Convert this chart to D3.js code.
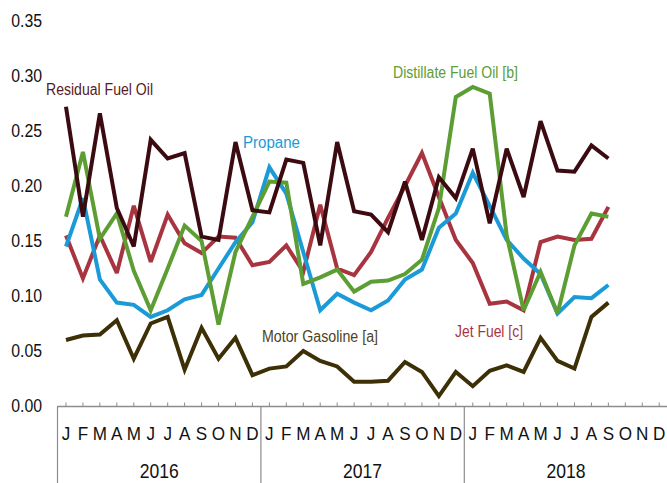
<!DOCTYPE html>
<html><head><meta charset="utf-8">
<script src="https://cdn.jsdelivr.net/npm/d3@7"></script>
<style>
html,body{margin:0;padding:0;background:#fff;}
svg{display:block;}
text{font-family:"Liberation Sans",Arial,sans-serif;}
</style></head>
<body>
<svg id="c" width="667" height="483"></svg>
<script>
const monthLetters = ["J","F","M","A","M","J","J","A","S","O","N","D"];
const years = ["2016","2017","2018"];
const yTicks = [0,0.05,0.10,0.15,0.20,0.25,0.30,0.35];

const residual = [0.272,0.172,0.266,0.180,0.145,0.242,0.225,0.230,0.154,0.151,0.240,0.178,
  0.176,0.224,0.221,0.146,0.240,0.177,0.174,0.158,0.204,0.151,0.208,0.189,
  0.234,0.166,0.234,0.190,0.259,0.214,0.213,0.237,0.225];
const distillate = [0.172,0.231,0.152,0.175,0.123,0.087,0.125,0.164,0.150,0.074,0.140,0.172,
  0.204,0.203,0.111,0.117,0.124,0.104,0.113,0.114,0.120,0.133,0.180,0.281,
  0.290,0.284,0.155,0.087,0.122,0.084,0.146,0.175,0.172];
const propane = [0.145,0.189,0.115,0.094,0.092,0.081,0.087,0.097,0.101,0.125,0.149,0.167,
  0.217,0.193,0.140,0.087,0.102,0.094,0.087,0.096,0.115,0.124,0.162,0.175,
  0.212,0.182,0.151,0.134,0.120,0.084,0.099,0.098,0.110];
const jetFuel = [0.155,0.116,0.155,0.121,0.182,0.131,0.174,0.148,0.139,0.154,0.153,0.128,
  0.131,0.146,0.122,0.183,0.125,0.119,0.140,0.171,0.200,0.230,0.190,0.151,
  0.130,0.093,0.095,0.087,0.149,0.154,0.151,0.152,0.181];
const motorGas = [0.060,0.064,0.065,0.078,0.043,0.075,0.081,0.033,0.071,0.043,0.062,0.028,
  0.034,0.036,0.050,0.041,0.036,0.022,0.022,0.023,0.040,0.031,0.009,0.031,
  0.018,0.032,0.037,0.031,0.062,0.041,0.034,0.081,0.094];

const series = [
  {name:"Motor Gasoline [a]", values:motorGas, color:"#3d3006", label:"#4d4322", lx:262, ly:342, tw:116},
  {name:"Jet Fuel [c]", values:jetFuel, color:"#a8343f", label:"#a8343f", lx:455, ly:336.5, tw:68},
  {name:"Propane", values:propane, color:"#1a9bd7", label:"#1a9bd7", lx:243, ly:148, tw:57},
  {name:"Distillate Fuel Oil [b]", values:distillate, color:"#5c9e33", label:"#5c9e33", lx:393, ly:78, tw:125},
  {name:"Residual Fuel Oil", values:residual, color:"#3c0b11", label:"#571a22", lx:46, ly:95, tw:107}
];

const svg = d3.select("#c");
const nMonths = monthLetters.length * years.length;
const x = d3.scaleBand().domain(d3.range(nMonths)).range([57.5, 57.5 + nMonths*16.95]).padding(0);
const bw = x.bandwidth();
const xc = i => x(i) + bw/2;
const y = d3.scaleLinear().domain([0,0.35]).range([406,21]);

// y tick labels
const SX = 0.88;
svg.append("g").selectAll("text").data(yTicks).join("text")
  .attr("transform", d => `translate(42,${y(d)+6.4}) scale(${SX},1)`)
  .attr("text-anchor","end").attr("font-size","18px").attr("fill","#111")
  .text(d => d.toFixed(2));

// x axis with upward ticks
const axisG = svg.append("g").attr("transform","translate(0,406.5)");
axisG.call(d3.axisBottom(x).tickSize(-4).tickSizeOuter(0).tickFormat(""));
axisG.select(".domain").attr("stroke","#8c8c8c").attr("stroke-width",1.5)
  .attr("d", `M57.5,0H667`);
axisG.selectAll(".tick line").attr("stroke","#8c8c8c").attr("stroke-width",1);

// year separators
svg.append("g").selectAll("line").data(d3.range(years.length)).join("line")
  .attr("x1", d => x(d*12)).attr("x2", d => x(d*12))
  .attr("y1",406).attr("y2",483).attr("stroke","#8c8c8c").attr("stroke-width",1.2);

// month labels
svg.append("g").selectAll("text").data(d3.range(nMonths)).join("text")
  .attr("transform", d => `translate(${xc(d)},440) scale(0.9,1)`)
  .attr("text-anchor","middle").attr("font-size","19px").attr("fill","#111")
  .text(d => monthLetters[d % 12]);

// year labels
svg.append("g").selectAll("text").data(years).join("text")
  .attr("transform", (d,i) => `translate(${(x(i*12) + x(i*12+11)+bw)/2},478) scale(0.9,1)`)
  .attr("text-anchor","middle").attr("font-size","19.5px").attr("fill","#111")
  .text(d => d);

// lines
const line = d3.line().x((d,i) => xc(i)).y(d => y(d));
svg.append("g").selectAll("path").data(series).join("path")
  .attr("d", d => line(d.values)).attr("fill","none")
  .attr("stroke", d => d.color).attr("stroke-width",4)
  .attr("stroke-linejoin","miter").attr("stroke-miterlimit",3);

// series labels
svg.append("g").selectAll("text").data(series).join("text")
  .attr("x", d => d.lx).attr("y", d => d.ly)
  .attr("textLength", d => d.tw).attr("lengthAdjust","spacingAndGlyphs")
  .attr("font-size","16px").attr("fill", d => d.label)
  .text(d => d.name);
</script>
</body></html>
